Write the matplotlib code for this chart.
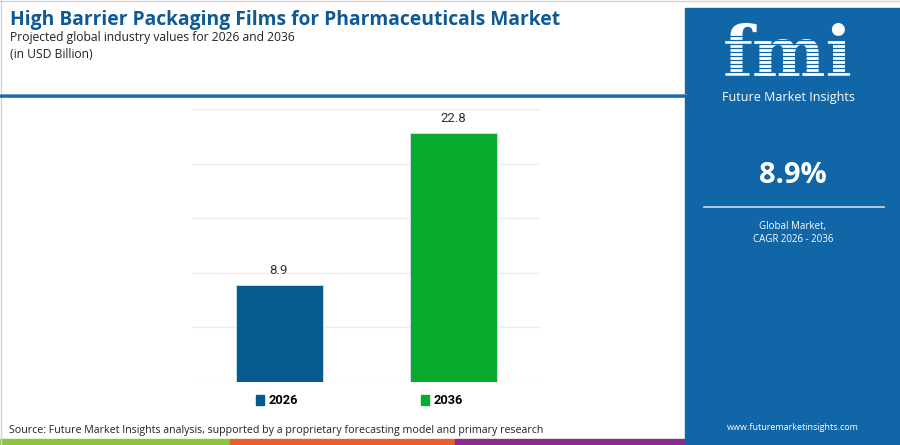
import matplotlib
matplotlib.use("Agg")
import matplotlib.pyplot as plt
from matplotlib.patches import Rectangle
from matplotlib.lines import Line2D

# data
years = ["2026", "2036"]
values = [8.9, 22.8]
bar_colors = ["#055a8e", "#08ab2e"]
cagr = "8.9%"

W, H = 900, 445
PANEL = "#1066a6"
fig = plt.figure(figsize=(W / 100, H / 100), dpi=100)
plt.rcParams["font.family"] = ["Open Sans", "DejaVu Sans"]


def fx(px):
    return px / W


def fy(py):
    return 1 - py / H


# bar chart
ax = fig.add_axes([fx(192), fy(381.7), fx(540) - fx(192), fy(109) - fy(381.7)])
x = list(range(len(years)))
ax.bar(x, values, width=0.5, color=bar_colors, edgecolor="#cfe3f0", linewidth=0.6, zorder=3)
for xi, v in zip(x, values):
    ax.text(xi, v + 0.7, f"{v}", ha="center", va="bottom", fontsize=9.5,
            color="#333333", family=["Roboto", "DejaVu Sans"])
ax.set_xlim(-0.5, 1.5)
ax.set_ylim(0, 25)
ax.set_yticks([0, 5, 10, 15, 20, 25])
ax.yaxis.grid(True, color="#eeeeee", linewidth=1, zorder=0)
ax.tick_params(left=False, bottom=False, labelleft=False, labelbottom=False)
for s in ax.spines.values():
    s.set_visible(False)

# legend
handles = [Rectangle((0, 0), 1, 1, color=c) for c in bar_colors]
fig.legend(handles, years, loc="center", bbox_to_anchor=(fx(359.5), fy(401)),
           ncol=2, frameon=False, handlelength=0.65, handleheight=0.9,
           handletextpad=0.35, columnspacing=9.6,
           prop={"family": ["Roboto", "DejaVu Sans"], "weight": "bold", "size": 9.2})

# title block
fig.text(fx(10), fy(20), "High Barrier Packaging Films for Pharmaceuticals Market",
         fontsize=13.9, fontweight="bold", color="#0e5a94", va="center", ha="left")
fig.text(fx(10), fy(38), "Projected global industry values for 2026 and 2036",
         fontsize=8.7, color="#222222", va="center", ha="left")
fig.text(fx(10), fy(55), "(in USD Billion)",
         fontsize=8.7, color="#222222", va="center", ha="left")

# thin frame at top and left
fig.add_artist(Line2D([0, 1], [fy(0.5), fy(0.5)], color="#d4d4d4", linewidth=1))
fig.add_artist(Line2D([fx(0.5), fx(0.5)], [0, 1], color="#d4d4d4", linewidth=1))

# separator line under title
fig.add_artist(Line2D([0, fx(686)], [fy(95.5), fy(95.5)], color="#1a6aab", linewidth=2.6))
fig.add_artist(Line2D([0, fx(686)], [fy(93.5), fy(93.5)], color="#6aa6d6", linewidth=0.6))

# source
fig.text(fx(9), fy(430), "Source: Future Market Insights analysis, supported by a proprietary "
         "forecasting model and primary research",
         fontsize=7.7, color="#222222", va="center", ha="left")

# bottom colour stripe
for x0, x1, c in [(0, 230, "#8bc43f"), (230, 455, "#e8612c"), (455, 686, "#8b2c8c")]:
    fig.add_artist(Rectangle((fx(x0), 0), fx(x1) - fx(x0), fy(439), color=c,
                             transform=fig.transFigure))

# right panel
fig.add_artist(Rectangle((fx(685), 0), fx(900) - fx(685), fy(8), color=PANEL,
                         transform=fig.transFigure))
fig.text(fx(788), fy(57), "fmi", fontsize=50, fontweight="bold", color="white",
         ha="center", va="center", family=["DejaVu Serif"])
# striped look of the logo
for yy in range(36, 86, 4):
    fig.add_artist(Line2D([fx(715), fx(860)], [fy(yy), fy(yy)], color=PANEL,
                          linewidth=0.9, zorder=5))
fig.text(fx(788), fy(97), "Future Market Insights", fontsize=9, color="white",
         ha="center", va="center")
fig.text(fx(793), fy(175), cagr, fontsize=21, fontweight="bold", color="white",
         ha="center", va="center")
fig.add_artist(Line2D([fx(704), fx(884)], [fy(207), fy(207)], color="#c8dcec", linewidth=1.2))
fig.text(fx(793), fy(226), "Global Market,", fontsize=7, color="white",
         ha="center", va="center")
fig.text(fx(793), fy(239), "CAGR 2026 - 2036", fontsize=7, color="white",
         ha="center", va="center")
fig.text(fx(793), fy(428), "www.futuremarketinsights.com", fontsize=6.5, color="white",
         ha="center", va="center")

fig.savefig("out.png", dpi=100)
plt.close(fig)
